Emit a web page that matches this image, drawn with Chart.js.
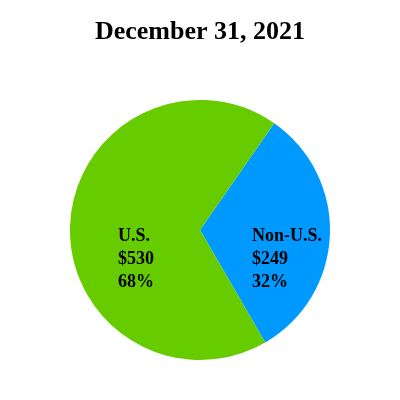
<!DOCTYPE html>
<html>
<head>
<meta charset="utf-8">
<script src="https://cdn.jsdelivr.net/npm/chart.js@4/dist/chart.umd.min.js"></script>
<style>
  html, body { margin: 0; padding: 0; background: #fff; }
  #wrap { width: 400px; height: 400px; }
</style>
</head>
<body>
<div id="wrap"><canvas id="pie" width="400" height="400"></canvas></div>
<script>
const categories = ['Non-U.S.', 'U.S.'];
const amounts = [249, 530];
const percents = [32, 68];
const colors = ['#0099ff', '#66cc00'];

// draws the three-line label inside each slice
const sliceLabels = {
  id: 'sliceLabels',
  afterDatasetsDraw(chart) {
    const ctx = chart.ctx;
    const meta = chart.getDatasetMeta(0);
    const offsets = [[52, 29], [-82, 29]];
    ctx.save();
    ctx.font = 'bold 18px "Liberation Serif", "Times New Roman", serif';
    ctx.fillStyle = '#000';
    ctx.textAlign = 'left';
    ctx.textBaseline = 'middle';
    meta.data.forEach((arc, i) => {
      const x = arc.x + offsets[i][0];
      const y = arc.y + offsets[i][1];
      const lines = [categories[i], '$' + amounts[i], percents[i] + '%'];
      lines.forEach((t, j) => ctx.fillText(t, x, y + (j - 1) * 23));
    });
    ctx.restore();
  }
};

new Chart(document.getElementById('pie').getContext('2d'), {
  type: 'pie',
  data: {
    labels: categories,
    datasets: [{
      data: amounts,
      backgroundColor: colors,
      borderWidth: 0
    }]
  },
  options: {
    responsive: false,
    animation: false,
    rotation: 34.8,
    layout: { padding: { top: 0, bottom: 40, left: 70, right: 70 } },
    plugins: {
      legend: { display: false },
      tooltip: { enabled: false },
      title: {
        display: true,
        text: 'December 31, 2021',
        color: '#000',
        font: { family: '"Liberation Serif", "Times New Roman", serif', size: 26, weight: 'bold' },
        padding: { top: 16.4, bottom: 52.4 }
      }
    }
  },
  plugins: [sliceLabels]
});
</script>
</body>
</html>
